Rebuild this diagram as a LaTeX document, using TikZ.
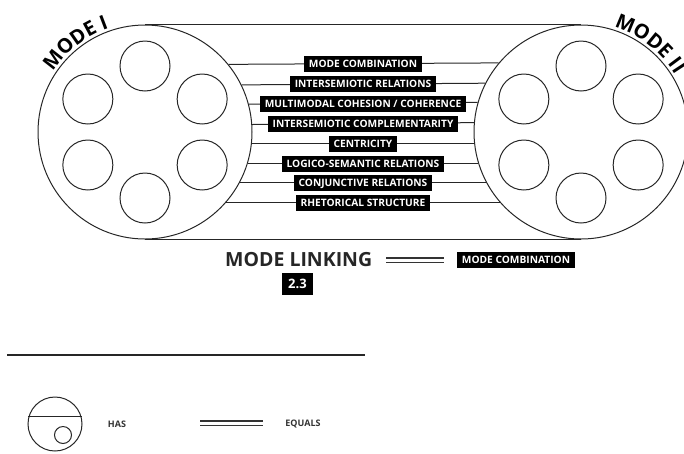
\documentclass[tikz,border=0pt]{standalone}
\usepackage{fontspec}
\setmainfont{Open Sans}
\usetikzlibrary{calc, decorations.text}
\newcommand\modefont{\bfseries\fontsize{20}{20}\selectfont}
\tikzset{
  ring/.style={circle, draw=black!85, line width=1pt, minimum size=214pt, inner sep=0pt},
  seed/.style={circle, draw=black!85, line width=1pt, minimum size=50pt, inner sep=0pt},
  link/.style={draw=black!85, line width=1pt},
  equalsign/.style={draw=black!80, line width=1.2pt, double, double distance=3pt},
  tag/.style={rectangle, fill=black, text=white, font=\bfseries\fontsize{10.2}{11}\selectfont,
              inner xsep=5pt, inner ysep=0pt, minimum height=16pt},
  legendtext/.style={font=\bfseries\fontsize{9}{9}\selectfont, text=black!80},
}

\begin{document}
\begin{tikzpicture}[x=1pt, y=-1pt]
  \useasboundingbox (0,0) rectangle (684,453);
  \clip (0,0) rectangle (684,453);

  % the two modes
  \node[ring] (modeA) at (145,132) {};
  \node[ring] (modeB) at (581,132) {};
  \foreach \a in {30,90,...,330} {
    \node[seed] (seedA\a) at ($(modeA)+(\a:66pt)$) {};
    \node[seed] (seedB\a) at ($(modeB)+(\a:66pt)$) {};
  }
  \path[decorate, decoration={text along path, text={|\modefont|MODE I}, text align=center}]
    ($(modeA)+(170:110pt)$) arc[start angle=170, end angle=86, radius=110pt];
  \path[decorate, decoration={text along path, text={|\modefont|MODE II}, text align=center}]
    ($(modeB)+(96:110pt)$) arc[start angle=96, end angle=8, radius=110pt];

  % links between the modes
  \draw[link] (modeA.north) -- (modeB.north);
  \draw[link] (modeA.south) -- (modeB.south);
  \foreach \txt [count=\i from 0] in {MODE COMBINATION, INTERSEMIOTIC RELATIONS,
      MULTIMODAL COHESION / COHERENCE, INTERSEMIOTIC COMPLEMENTARITY, CENTRICITY,
      LOGICO-SEMANTIC RELATIONS, CONJUNCTIVE RELATIONS, RHETORICAL STRUCTURE} {
    \pgfmathsetmacro{\ang}{asin((132-(64+19.9*\i))/107)}
    \draw[link] (modeA.\ang) -- (modeB.{180-\ang});
    \node[tag] (rel\i) at (363,{64+19.9*\i}) {\txt};
  }

  % mode linking
  \node[font=\bfseries\fontsize{19.5}{20}\selectfont, text=black!85, anchor=west, inner sep=0pt] (linking) at (225,260) {MODE LINKING};
  \node[tag] (combo) at (516,260) {MODE COMBINATION};
  \draw[equalsign] ([xshift=14pt]linking.east) -- ([xshift=-13pt]combo.west);
  \node[fill=black, text=white, font=\bfseries\fontsize{13}{13}\selectfont,
        minimum width=31pt, minimum height=22pt, inner sep=0pt] (section) at (297.5,284) {2.3};

  % legend
  \coordinate (ruleL) at (7,355);
  \coordinate (ruleR) at (365,355);
  \draw[link, line width=1.2pt] (ruleL) -- (ruleR);
  \node[circle, draw=black!85, line width=1pt, minimum size=54pt, inner sep=0pt] (hasSym) at (55,424) {};
  \draw[link] (hasSym.165) -- (hasSym.15);
  \node[circle, draw=black!85, line width=1pt, minimum size=17pt, inner sep=0pt] (hasDot) at (63,435) {};
  \node[legendtext] (hasTxt) at (117,424) {HAS};
  \coordinate (eqA) at (200,423);
  \coordinate (eqB) at (263,423);
  \draw[equalsign] (eqA) -- (eqB);
  \node[legendtext] (eqTxt) at (303,424) {EQUALS};
\end{tikzpicture}
\end{document}
